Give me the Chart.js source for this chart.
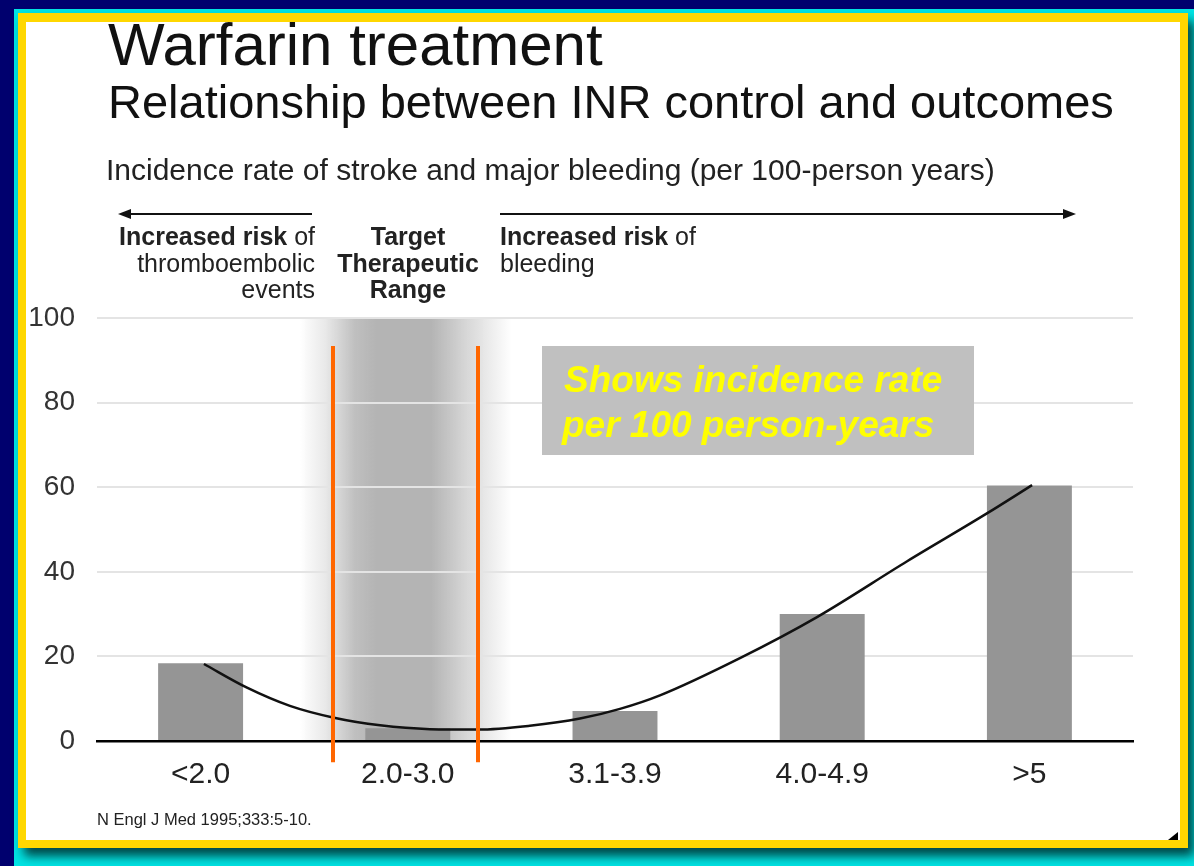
<!DOCTYPE html>
<html>
<head>
<meta charset="utf-8">
<title>Warfarin treatment</title>
<script src="https://cdn.jsdelivr.net/npm/chart.js@4.4.1/dist/chart.umd.min.js"></script>
<style>
  html, body { margin: 0; padding: 0; }
  body { width: 1194px; height: 866px; background: #00006e; position: relative; overflow: hidden; }
  .cyan { position: absolute; left: 14px; top: 9px; right: 0; bottom: 0; background: #00e4e4; }
  .frame {
    position: absolute; left: 18px; top: 13px; width: 1170px; height: 835px;
    background: #ffd700; box-shadow: 6px 8px 10px rgba(0, 40, 40, 0.85);
  }
  .slide { position: absolute; left: 26px; top: 22px; width: 1154px; height: 818px; background: #fff; }
  .corner {
    position: absolute; left: 1168px; top: 832px; width: 0; height: 0;
    border-left: 10px solid transparent; border-bottom: 8px solid #000;
  }
  #chart { position: absolute; left: 0; top: 0; }
</style>
</head>
<body>
<div class="cyan"></div>
<div class="frame"></div>
<div class="slide"></div>
<div class="corner"></div>
<canvas id="chart" width="1194" height="866"></canvas>
<script>
// INR ranges and incidence rate (per 100 person-years)
const categories = ['<2.0', '2.0-3.0', '3.1-3.9', '4.0-4.9', '>5'];
const incidence = [18.4, 3, 7.1, 30, 60.4];

// fitted trend curve (x in category units)
const curveX = [0.016, 0.224, 0.431, 0.644, 0.866, 1.107, 1.339, 1.589, 1.831, 2.024, 2.217, 2.603, 2.975, 3.41, 3.795, 4.013];
const curveY = [18.2, 12.6, 8.3, 5.5, 3.7, 2.8, 2.7, 3.6, 5.3, 7.6, 10.8, 19.6, 29.3, 42.5, 53.8, 60.5];

const yTicks = [0, 20, 40, 60, 80, 100];

// target therapeutic range markers (category units) and the shaded band
const targetRange = [0.64, 1.34];
const targetSpan = [-5, 93.4];
const shadeRange = [0.48, 1.50];

const FONT = '"Liberation Sans", Arial, sans-serif';

function arrow(ctx, x1, x2, y) {
  const dir = Math.sign(x2 - x1);
  ctx.strokeStyle = '#111';
  ctx.fillStyle = '#111';
  ctx.lineWidth = 2;
  ctx.beginPath();
  ctx.moveTo(x1, y);
  ctx.lineTo(x2 - dir * 10, y);
  ctx.stroke();
  ctx.beginPath();
  ctx.moveTo(x2, y);
  ctx.lineTo(x2 - dir * 13, y - 5);
  ctx.lineTo(x2 - dir * 13, y + 5);
  ctx.closePath();
  ctx.fill();
}

function mixed(ctx, parts, x, y, align) {
  // parts: [[text, bold], ...]
  let total = 0;
  parts.forEach(p => {
    ctx.font = (p[1] ? 'bold ' : '') + '25px ' + FONT;
    total += ctx.measureText(p[0]).width;
  });
  let cx = align === 'right' ? x - total : x;
  ctx.textAlign = 'left';
  parts.forEach(p => {
    ctx.font = (p[1] ? 'bold ' : '') + '25px ' + FONT;
    ctx.fillText(p[0], cx, y);
    cx += ctx.measureText(p[0]).width;
  });
}

const shadePlugin = {
  id: 'shade',
  beforeDraw(chart) {
    const { ctx, chartArea, scales } = chart;
    const x = scales.x;
    const x0 = x.getPixelForValue(shadeRange[0]);
    const x1 = x.getPixelForValue(shadeRange[1]);
    const g = ctx.createLinearGradient(x0, 0, x1, 0);
    g.addColorStop(0, 'rgba(180,180,180,0)');
    g.addColorStop(0.12, 'rgba(180,180,180,0.3)');
    g.addColorStop(0.26, 'rgba(180,180,180,0.85)');
    g.addColorStop(0.36, 'rgba(180,180,180,1)');
    g.addColorStop(0.62, 'rgba(180,180,180,1)');
    g.addColorStop(0.8, 'rgba(180,180,180,0.5)');
    g.addColorStop(1, 'rgba(180,180,180,0)');
    ctx.save();
    ctx.fillStyle = g;
    ctx.fillRect(x0, chartArea.top, x1 - x0, chartArea.bottom - chartArea.top);
    ctx.restore();
  },
  afterDraw(chart) {
    const { ctx, scales } = chart;
    const x = scales.x, y = scales.y;
    ctx.save();

    // orange target range lines
    ctx.strokeStyle = '#ff6600';
    ctx.lineWidth = 4;
    targetRange.forEach(v => {
      const px = Math.round(x.getPixelForValue(v));
      ctx.beginPath();
      ctx.moveTo(px, y.getPixelForValue(targetSpan[1]));
      ctx.lineTo(px, y.getPixelForValue(targetSpan[0]));
      ctx.stroke();
    });

    // titles
    ctx.fillStyle = '#111';
    ctx.textBaseline = 'alphabetic';
    ctx.textAlign = 'left';
    ctx.font = '60px ' + FONT;
    ctx.fillText('Warfarin treatment', 108, 65);
    ctx.font = '47px ' + FONT;
    ctx.fillText('Relationship between INR control and outcomes', 108, 118);
    ctx.fillStyle = '#222';
    ctx.font = '30px ' + FONT;
    ctx.fillText('Incidence rate of stroke and major bleeding (per 100-person years)', 106, 180);

    // arrows
    arrow(ctx, 312, 118, 214);
    arrow(ctx, 500, 1076, 214);

    // region notes
    ctx.fillStyle = '#222';
    mixed(ctx, [['Increased risk', true], [' of', false]], 315, 245, 'right');
    ctx.font = '25px ' + FONT;
    ctx.textAlign = 'right';
    ctx.fillText('thromboembolic', 315, 272);
    ctx.fillText('events', 315, 298);
    ctx.font = 'bold 25px ' + FONT;
    ctx.textAlign = 'center';
    ctx.fillText('Target', 408, 245);
    ctx.fillText('Therapeutic', 408, 272);
    ctx.fillText('Range', 408, 298);
    mixed(ctx, [['Increased risk', true], [' of', false]], 500, 245, 'left');
    ctx.font = '25px ' + FONT;
    ctx.textAlign = 'left';
    ctx.fillText('bleeding', 500, 272);

    // callout box
    ctx.fillStyle = '#c0c0c0';
    ctx.fillRect(542, 346, 432, 109);
    ctx.fillStyle = '#ffff00';
    ctx.font = 'italic bold 37px ' + FONT;
    ctx.fillText('Shows incidence rate', 564, 392);
    ctx.fillText('per 100 person-years', 562, 437);

    // source
    ctx.fillStyle = '#222';
    ctx.font = '16.5px ' + FONT;
    ctx.fillText('N Engl J Med 1995;333:5-10.', 97, 825);

    ctx.restore();
  }
};

new Chart(document.getElementById('chart').getContext('2d'), {
  type: 'bar',
  data: {
    datasets: [
      {
        type: 'line',
        data: curveX.map((v, i) => ({ x: v, y: curveY[i] })),
        borderColor: '#111',
        borderWidth: 2.5,
        cubicInterpolationMode: 'monotone',
        pointRadius: 0,
        fill: false,
        order: 0
      },
      {
        type: 'bar',
        data: categories.map((c, i) => ({ x: i, y: incidence[i] })),
        backgroundColor: '#959595',
        borderWidth: 0,
        categoryPercentage: 1,
        barPercentage: 0.41,
        order: 1
      }
    ]
  },
  options: {
    responsive: false,
    animation: false,
    layout: { padding: { left: 0, top: 318, right: 61, bottom: 65 } },
    plugins: {
      legend: { display: false },
      tooltip: { enabled: false }
    },
    scales: {
      x: {
        type: 'linear',
        min: -0.5,
        max: 4.5,
        offset: false,
        afterBuildTicks: s => { s.ticks = categories.map((c, i) => ({ value: i })); },
        grid: { display: false, drawTicks: false, offset: false },
        border: { display: true, color: '#000', width: 2.5 },
        ticks: {
          color: '#222', padding: 16, maxRotation: 0, autoSkip: false,
          font: { family: FONT, size: 30 },
          callback: v => categories[v]
        },
        afterFit: s => { s.height = 60; }
      },
      y: {
        min: yTicks[0],
        max: yTicks[yTicks.length - 1],
        afterBuildTicks: s => { s.ticks = yTicks.map(v => ({ value: v })); },
        grid: { color: '#e4e4e4', lineWidth: 2, drawTicks: false },
        border: { display: false },
        ticks: { color: '#333', padding: 22, font: { family: FONT, size: 28 } },
        afterFit: s => { s.width = 97; }
      }
    }
  },
  plugins: [shadePlugin]
});
</script>
</body>
</html>
